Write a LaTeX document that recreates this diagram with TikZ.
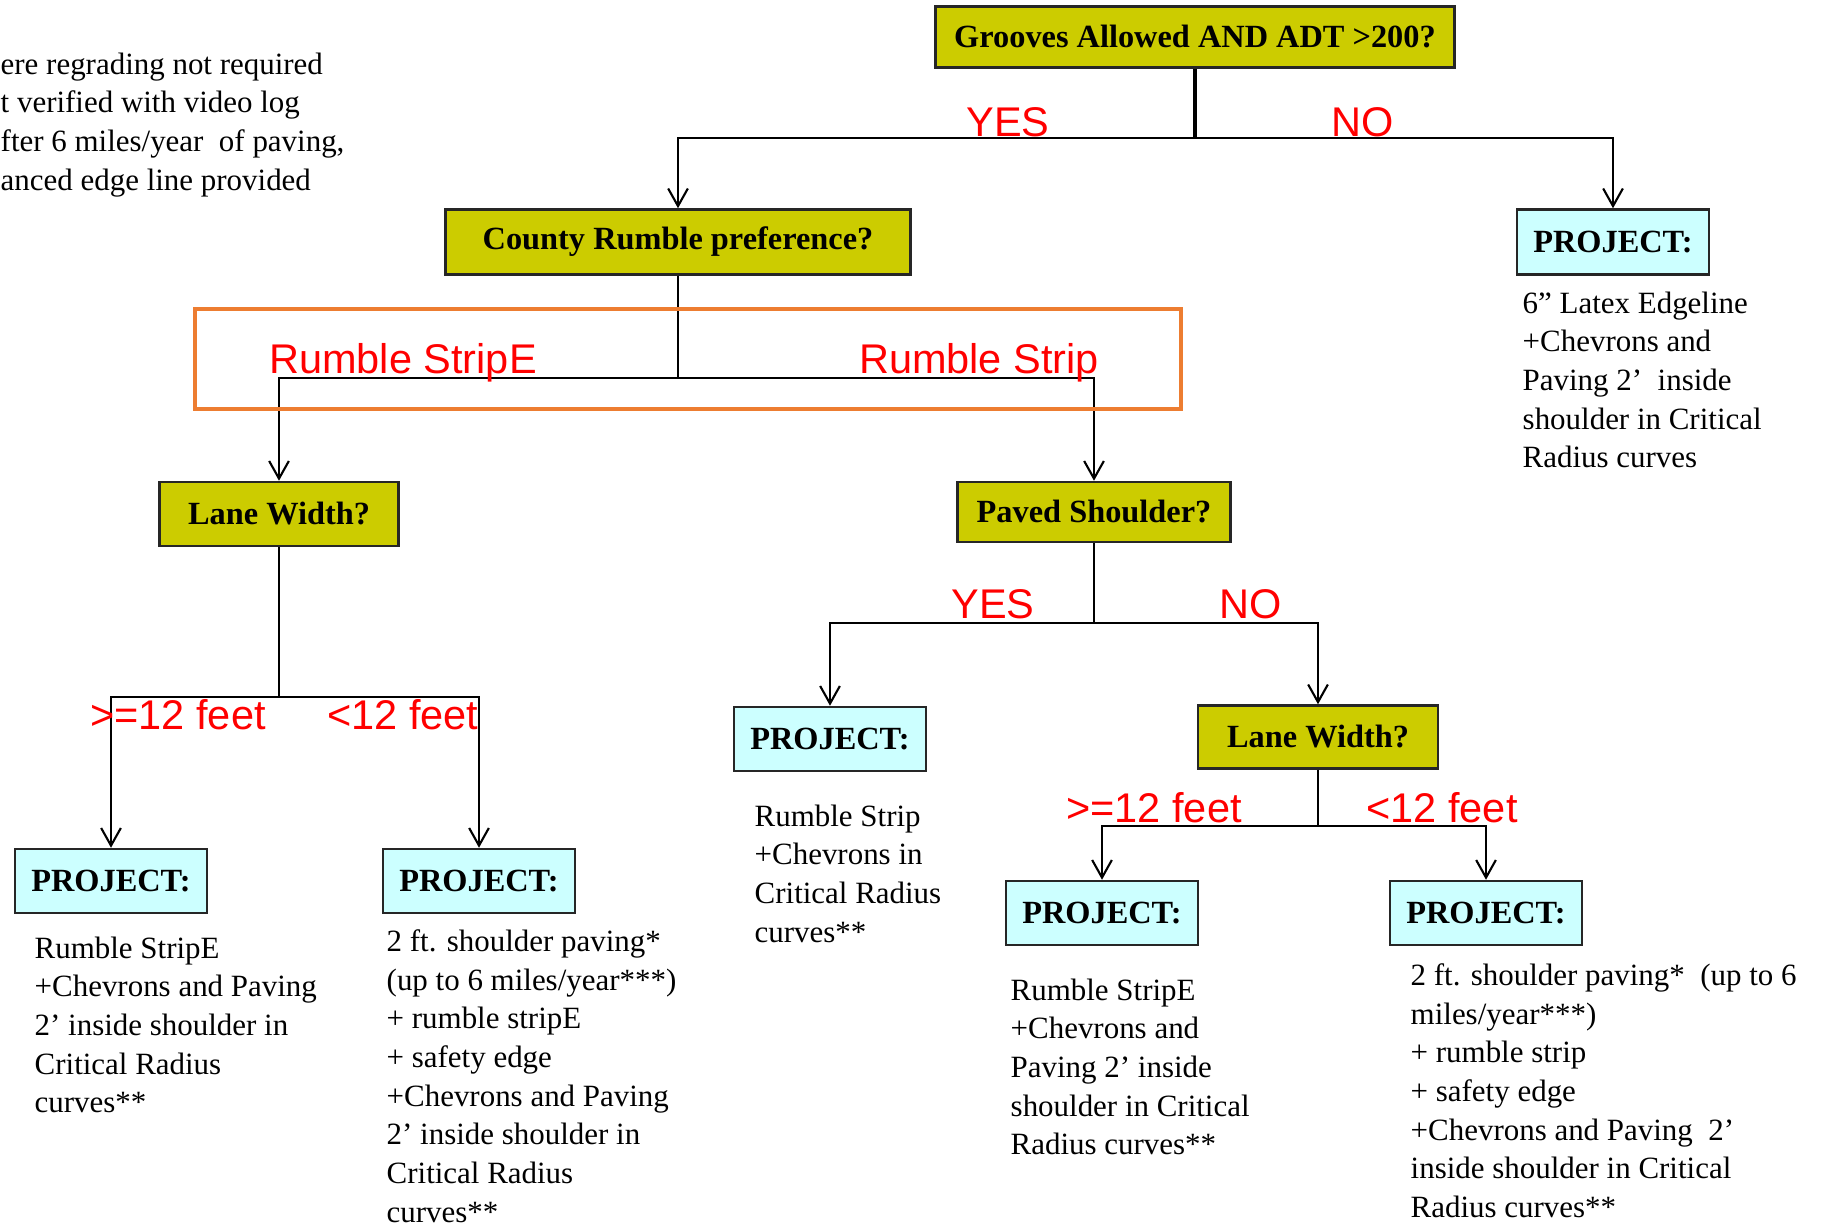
\documentclass[tikz,border=0pt]{standalone}
\usepackage{fontspec}
\setmainfont{Liberation Serif}
\newfontfamily\arialfont{Liberation Sans}
\usetikzlibrary{arrows.meta}
\definecolor{jauneQ}{HTML}{CCCC00}
\definecolor{cyanP}{HTML}{CCFFFF}
\definecolor{orangeR}{HTML}{ED7D31}
\begin{document}
\begin{tikzpicture}[x=0.01cm,y=-0.01cm]
			\def\corps{\fontsize{8.8}{11}\selectfont}
			\def\titre{\fontsize{9.2}{11}\selectfont}
			\tikzstyle{fleche}=[-{Straight Barb[length=5pt,width=5.6pt]},line width=0.6pt]
			\tikzstyle{trait}=[line width=0.6pt]
			\tikzstyle{question}=[draw=black!85,line width=0.7pt,fill=jauneQ,font=\bfseries\titre,minimum height=0.62cm,inner sep=0pt]
			\tikzstyle{projet}=[draw=black!85,line width=0.7pt,fill=cyanP,font=\bfseries\titre,minimum width=1.92cm,minimum height=0.64cm,inner sep=0pt]
			\tikzstyle{etiquette}=[anchor=base,font=\arialfont\fontsize{11.8}{14}\selectfont,text=red,inner sep=0pt]
			\tikzstyle{texte}=[anchor=north west,align=left,font=\corps,inner sep=0pt]
			\useasboundingbox (0,0) rectangle (1824,1225);
			\node[texte] (note) at (0,52) {ere regrading not required\\t verified with video log\\fter 6 miles/year\ \ of paving,\\anced edge line provided};
			\node[question,minimum width=5.19cm,minimum height=0.61cm] (R) at (1195,37) {Grooves Allowed AND ADT >200?};
			\node[question,minimum width=4.65cm,minimum height=0.65cm] (Ra) at (678,242) {County Rumble preference?};
			\node[projet,minimum height=0.65cm] (Rb) at (1613,242) {PROJECT:};
			\node[question,minimum width=2.39cm,minimum height=0.64cm] (Raa) at (279,514) {Lane Width?};
			\node[question,minimum width=2.73cm,minimum height=0.60cm] (Rab) at (1094,512) {Paved Shoulder?};
			\node[projet] (Raaa) at (111,881) {PROJECT:};
			\node[projet] (Raab) at (479,881) {PROJECT:};
			\node[projet] (Raba) at (830,739) {PROJECT:};
			\node[question,minimum width=2.40cm,minimum height=0.63cm] (Rabb) at (1318,737) {Lane Width?};
			\node[projet] (Rabba) at (1102,913) {PROJECT:};
			\node[projet] (Rabbb) at (1486,913) {PROJECT:};
			\coordinate (jR) at (R.south |- 0,138);
			\coordinate (jRa) at (Ra.south |- 0,378);
			\coordinate (jRaa) at (Raa.south |- 0,697);
			\coordinate (jRab) at (Rab.south |- 0,623);
			\coordinate (jRabb) at (Rabb.south |- 0,826);
			\draw[trait,line width=0.9pt] (R.south)--(jR);
			\draw[fleche] (jR)-|(Ra.north);
			\draw[fleche] (jR)-|(Rb.north);
			\draw[trait] (Ra.south)--(jRa);
			\draw[fleche] (jRa)-|(Raa.north);
			\draw[fleche] (jRa)-|(Rab.north);
			\draw[trait] (Raa.south)--(jRaa);
			\draw[fleche] (jRaa)-|(Raaa.north);
			\draw[fleche] (jRaa)-|(Raab.north);
			\draw[trait] (Rab.south)--(jRab);
			\draw[fleche] (jRab)-|(Raba.north);
			\draw[fleche] (jRab)-|(Rabb.north);
			\draw[trait] (Rabb.south)--(jRabb);
			\draw[fleche] (jRabb)-|(Rabba.north);
			\draw[fleche] (jRabb)-|(Rabbb.north);
			\node[etiquette] (oui1) at (1008,137) {YES};
			\node[etiquette] (non1) at (1363,137) {NO};
			\node[etiquette] (choixE) at (403,374) {Rumble StripE};
			\node[etiquette] (choix) at (979,374) {Rumble Strip};
			\node[etiquette] (large1) at (178,730) {>=12 feet};
			\node[etiquette] (etroit1) at (403,730) {<12 feet};
			\node[etiquette] (oui2) at (993,619) {YES};
			\node[etiquette] (non2) at (1251,619) {NO};
			\node[etiquette] (large2) at (1154,822) {>=12 feet};
			\node[etiquette] (etroit2) at (1442,822) {<12 feet};
			\draw[orangeR,line width=1.4pt] (195,309) rectangle (1181,409);
			\node[texte] (tRb) at (1522,291) {6” Latex Edgeline\\+Chevrons and\\Paving 2’\ \ inside\\shoulder in Critical\\Radius curves};
			\node[texte] (tRaaa) at (34,936) {Rumble StripE\\+Chevrons and Paving\\2’ inside shoulder in\\Critical Radius\\curves**};
			\node[texte] (tRaab) at (386,929) {2 ft. shoulder paving*\\(up to 6 miles/year***)\\+ rumble stripE\\+ safety edge\\+Chevrons and Paving\\2’ inside shoulder in\\Critical Radius\\curves**};
			\node[texte] (tRaba) at (754,804) {Rumble Strip\\+Chevrons in\\Critical Radius\\curves**};
			\node[texte] (tRabba) at (1010,978) {Rumble StripE\\+Chevrons and\\Paving 2’ inside\\shoulder in Critical\\Radius curves**};
			\node[texte] (tRabbb) at (1410,963) {2 ft. shoulder paving*\ \ (up to 6\\miles/year***)\\+ rumble strip\\+ safety edge\\+Chevrons and Paving\ \ 2’\\inside shoulder in Critical\\Radius curves**};
		\end{tikzpicture}
\end{document}
